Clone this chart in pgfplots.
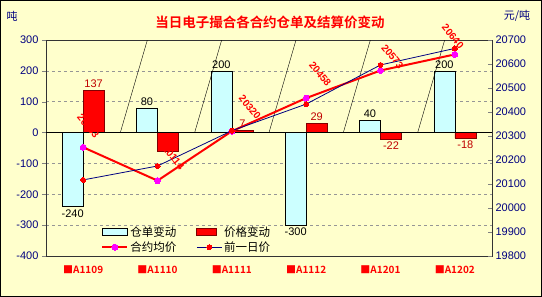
\documentclass[border=0pt]{standalone}
\usepackage{pgfplots}
\pgfplotsset{compat=1.18}
\usepackage{fontspec}
\setmainfont{Liberation Sans}
\newfontfamily\cjk{Noto Sans CJK SC}
\newfontfamily\cjkb{Noto Sans CJK SC Bold}
\definecolor{bg}{RGB}{255,255,204}
\definecolor{navyc}{RGB}{0,0,128}
\definecolor{cyanbar}{RGB}{204,255,255}
\definecolor{darkred}{RGB}{128,0,0}
\definecolor{lblred}{RGB}{192,0,0}
\definecolor{mag}{RGB}{255,0,255}
\definecolor{gridc}{RGB}{150,150,150}
\begin{document}
\begin{tikzpicture}
\fill[bg] (0,0) rectangle (542pt,297pt);
\draw[black, line width=1.2pt] (0.6pt,0.6pt) rectangle (541.4pt,296.4pt);
\useasboundingbox (0,0) rectangle (542pt,297pt);
\node[text=red] at (270pt,274.5pt) {\cjkb\fontsize{13.5}{15}\selectfont 当日电子撮合各合约仓单及结算价变动};
\node[text=navyc] at (12pt,281pt) {\cjk\fontsize{11}{13}\selectfont 吨};
\node[text=navyc] at (517pt,281pt) {\cjk\fontsize{11}{13}\selectfont 元/吨};

\begin{axis}[
  at={(46pt,41pt)}, anchor=south west, scale only axis,
  width=446pt, height=216pt,
  xmin=-0.5, xmax=5.5, ymin=-400, ymax=300,
  ytick={-400,-300,...,300},
  ytick pos=left, tick align=outside, major tick length=4pt,
  xtick={0,...,5},
  xticklabels={■A1109,■A1110,■A1111,■A1112,■A1201,■A1202},
  x tick label style={font=\cjkb\fontsize{10}{12}\selectfont, text=red, yshift=-2pt},
  xtick style={draw=none},
  yticklabel style={font=\fontsize{11}{13}\selectfont, text=navyc},
  /pgf/number format/assume math mode=true,
  scaled y ticks=false,
  ymajorgrids, major grid style={dash pattern=on 3pt off 3pt, gridc, line width=0.5pt},
  axis line style={black!80},
  ybar=0pt, bar width=21pt,
  nodes near coords, point meta=explicit symbolic,
  visualization depends on={rawy \as \rawyv},
  every node near coord/.append style={anchor={\ifdim\rawyv pt<0pt north\else south\fi}, inner sep=2.5pt},
]
\addplot[fill=cyanbar, draw=black, line width=0.5pt,
  every node near coord/.append style={font=\fontsize{11}{13}\selectfont, text=black}]
  coordinates {(0,-240)[-240] (1,80)[80] (2,200)[200] (3,-300)[-300] (4,40)[40] (5,200)[200]};
\addplot[fill=red, draw=darkred, line width=0.6pt,
  every node near coord/.append style={font=\fontsize{11}{13}\selectfont, text=lblred}]
  coordinates {(0,137)[137] (1,-60)[] (2,7)[7] (3,29)[29] (4,-22)[-22] (5,-18)[-18]};
\draw[black, line width=0.8pt] (axis cs:-0.5,0) -- (axis cs:5.5,0);
\pgfplotsinvokeforeach{0.5,1.5,2.5,3.5,4.5}{\draw[black] (axis cs:#1,0) -- ++(0,4pt);}
\end{axis}

\begin{axis}[
  at={(46pt,41pt)}, anchor=south west, scale only axis,
  width=446pt, height=216pt,
  xmin=-0.5, xmax=5.5, ymin=19800, ymax=20700,
  clip mode=individual,
  axis y line*=right, axis x line=none,
  ytick={19800,19900,...,20700},
  tick align=inside, major tick length=4pt,
  scaled y ticks=false,
  yticklabel style={font=\fontsize{11}{13}\selectfont, text=navyc, /pgf/number format/1000 sep={}},
  /pgf/number format/assume math mode=true,
  axis line style={black!80},
  legend image code/.code={\draw[mark repeat=2,mark phase=2,#1] plot coordinates {(0pt,0pt) (12.5pt,0pt) (25pt,0pt)};},
  legend style={at={(0.117,0.157)}, anchor=north west, draw=none, fill=none,
    font=\cjk\fontsize{11.5}{13}\selectfont, legend columns=2,
    /tikz/every even column/.append style={column sep=18pt}, row sep=0pt},
]
\addlegendimage{legend image code/.code={\draw[fill=cyanbar,draw=black,line width=0.5pt] (0pt,-3.5pt) rectangle (25pt,3.5pt);}}
\addlegendentry{仓单变动}
\addlegendimage{legend image code/.code={\draw[fill=red,draw=darkred,line width=0.8pt] (0pt,-3.5pt) rectangle (20pt,3.5pt);}}
\addlegendentry{价格变动}
\addplot[red, line width=2pt, mark=*, mark size=3pt, mark options={fill=mag, draw=mag, line width=0pt}]
  coordinates {(0,20253) (1,20114) (2,20320) (3,20458) (4,20573) (5,20640)};
\addlegendentry{合约均价}
\addplot[navyc, line width=0.8pt, mark=*, mark size=2.5pt, mark options={fill=red, draw=red, line width=0pt}]
  coordinates {(0,20117) (1,20175) (2,20322) (3,20433) (4,20596) (5,20665)};
\addlegendentry{前一日价}
\tikzset{plbl/.style={rotate=-50, text=red, font=\bfseries\fontsize{10}{12}\selectfont, inner sep=0pt}}
\node[plbl] at ([shift={(5pt,21pt)}]axis cs:0,20253) {20253};
\node[plbl] at ([shift={(16pt,23pt)}]axis cs:1,20114) {20114};
\node[plbl] at ([shift={(18pt,24pt)}]axis cs:2,20320) {20320};
\node[plbl] at ([shift={(14pt,24pt)}]axis cs:3,20458) {20458};
\node[plbl] at ([shift={(12pt,14pt)}]axis cs:4,20573) {20573};
\node[plbl] at ([shift={(-2pt,18pt)}]axis cs:5,20640) {20640};
\end{axis}
\end{tikzpicture}
\end{document}
